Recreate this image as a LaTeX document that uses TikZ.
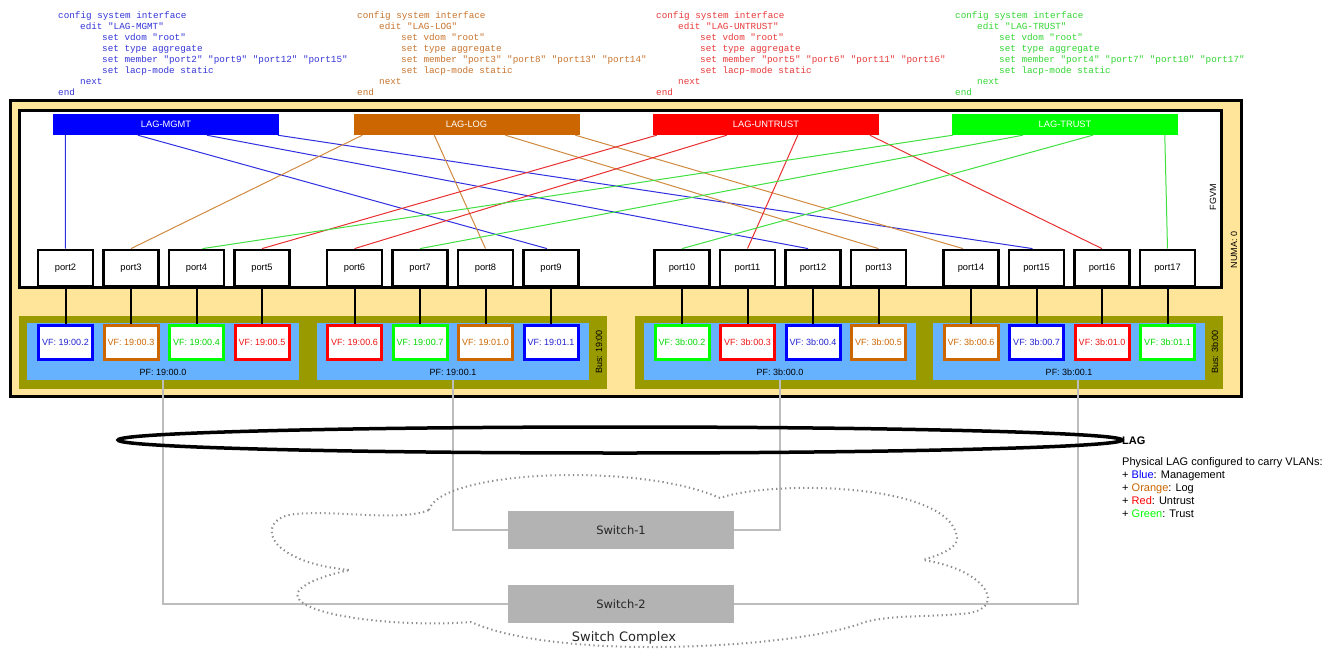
\documentclass[tikz,border=0pt]{standalone}
\usepackage{fontspec}
\setmainfont{Liberation Sans}
\setmonofont{Liberation Mono}
\newfontfamily\swfont{DejaVu Sans}
\usetikzlibrary{calc,shapes.geometric}
\definecolor{numafill}{HTML}{FFE599}
\definecolor{busolive}{HTML}{999900}
\definecolor{pfblue}{HTML}{66B2FF}
\definecolor{swgrey}{HTML}{B3B3B3}
\definecolor{wiregrey}{HTML}{BDBDBD}
\definecolor{cloudgrey}{HTML}{8C8C8C}
\definecolor{fillB}{HTML}{0000FF}
\definecolor{fillO}{HTML}{CC6600}
\definecolor{fillR}{HTML}{FF0000}
\definecolor{fillG}{HTML}{00FF00}
\definecolor{cfgB}{HTML}{3535D8}
\definecolor{cfgO}{HTML}{C8742E}
\definecolor{cfgR}{HTML}{E83A3A}
\definecolor{cfgG}{HTML}{33D633}
\definecolor{lnB}{HTML}{3030E0}
\definecolor{lnO}{HTML}{D08A40}
\definecolor{lnR}{HTML}{E83030}
\definecolor{lnG}{HTML}{40E040}
\definecolor{txB}{HTML}{2020D0}
\definecolor{txO}{HTML}{CC6600}
\definecolor{txR}{HTML}{EE1111}
\definecolor{txG}{HTML}{00D800}
\newcommand{\cfgblock}[5]{%
  \node[cfg,text=#2] (#3a) at (#1,18) {config system interface};
  \node[cfg,text=#2] (#3b) at (#1+22,29) {edit "#4"};
  \node[cfg,text=#2] (#3c) at (#1+44,40) {set vdom "root"};
  \node[cfg,text=#2] (#3d) at (#1+44,51) {set type aggregate};
  \node[cfg,text=#2] (#3e) at (#1+44,62) {set member #5};
  \node[cfg,text=#2] (#3f) at (#1+44,73) {set lacp-mode static};
  \node[cfg,text=#2] (#3g) at (#1+22,84) {next};
  \node[cfg,text=#2] (#3h) at (#1,95) {end};
}
\begin{document}
\begin{tikzpicture}[x=1pt,y=-1pt,
  cfg/.style={anchor=base west,inner sep=0pt,font=\ttfamily\fontsize{9.3}{11}\selectfont},
  lagbox/.style={rectangle,minimum width=226pt,minimum height=21pt,inner sep=0pt,text=white,font=\fontsize{9.3}{11}\selectfont},
  portbox/.style={draw=black,line width=2.8pt,fill=white,minimum width=55pt,minimum height=36pt,inner sep=0pt,font=\fontsize{9.3}{11}\selectfont},
  vfbox/.style={draw=fill#1,text=tx#1,fill=white,line width=3pt,minimum width=54pt,minimum height=34pt,inner sep=0pt,font=\fontsize{9}{11}\selectfont},
  pfbox/.style={fill=pfblue,minimum width=272pt,minimum height=57pt,inner sep=0pt},
  busbox/.style={fill=busolive,minimum width=588pt,minimum height=73pt,inner sep=0pt},
  smalltxt/.style={inner sep=0pt,font=\fontsize{9}{11}\selectfont},
  link/.style={line width=1pt},
  vflink/.style={line width=2pt,black},
  greywire/.style={line width=1.3pt,wiregrey},
  swbox/.style={fill=swgrey,minimum width=226pt,minimum height=38pt,inner sep=0pt,font=\swfont\fontsize{11.5}{13}\selectfont,text=black!85},
  cloudline/.style={cloudgrey,line width=2pt,dash pattern=on 1.3pt off 3.2pt},
  leg/.style={anchor=base west,inner sep=0pt,font=\fontsize{11}{13}\selectfont}
]
\useasboundingbox (0,0) rectangle (1328,651);
\fill[white] (0,0) rectangle (1328,651);

% config texts
\cfgblock{58}{cfgB}{cm}{LAG-MGMT}{"port2" "port9" "port12" "port15"}
\cfgblock{357}{cfgO}{cl}{LAG-LOG}{"port3" "port8" "port13" "port14"}
\cfgblock{656}{cfgR}{cu}{LAG-UNTRUST}{"port5" "port6" "port11" "port16"}
\cfgblock{955}{cfgG}{ct}{LAG-TRUST}{"port4" "port7" "port10" "port17"}

% NUMA and FGVM containers
\node[draw=black,line width=3pt,fill=numafill,minimum width=1231pt,minimum height=296pt,inner sep=0pt] (numa) at (626,248.5) {};
\node[draw=black,line width=3pt,fill=white,minimum width=1202pt,minimum height=176.5pt,inner sep=0pt] (fgvm) at (620.5,198.75) {};
\node[smalltxt,rotate=90] (fgvmlbl) at (1213,197) {FGVM};
\node[smalltxt,rotate=90] (numalbl) at (1234,250) {NUMA: 0};

% buses and PFs
\node[busbox] (bus19) at (313,352.5) {};
\node[busbox] (bus3b) at (929,352.5) {};
\node[smalltxt,rotate=90] (bus19lbl) at (599,352) {Bus: 19:00};
\node[smalltxt,rotate=90] (bus3blbl) at (1215,352) {Bus: 3b:00};
\node[pfbox] (pf0) at (163,351.5) {};
\node[pfbox] (pf1) at (453,351.5) {};
\node[pfbox] (pf2) at (780,351.5) {};
\node[pfbox] (pf3) at (1069,351.5) {};
\node[smalltxt] (pf0lbl) at (163,372) {PF: 19:00.0};
\node[smalltxt] (pf1lbl) at (453,372) {PF: 19:00.1};
\node[smalltxt] (pf2lbl) at (780,372) {PF: 3b:00.0};
\node[smalltxt] (pf3lbl) at (1069,372) {PF: 3b:00.1};

% VFs
\foreach \n/\x/\c/\t in {2/65.5/B/19:00.2,3/131/O/19:00.3,4/196.5/G/19:00.4,5/262/R/19:00.5,
  6/354.5/R/19:00.6,7/420/G/19:00.7,8/485.5/O/19:01.0,9/551/B/19:01.1,
  10/682/G/3b:00.2,11/747.5/R/3b:00.3,12/813/B/3b:00.4,13/878.5/O/3b:00.5,
  14/971/O/3b:00.6,15/1036.5/B/3b:00.7,16/1102/R/3b:01.0,17/1167.5/G/3b:01.1}
  \node[vfbox=\c] (v\n) at (\x,342.5) {VF: \t};

% ports
\foreach \n/\x in {2/65.5,3/131,4/196.5,5/262,6/354.5,7/420,8/485.5,9/551,
  10/682,11/747.5,12/813,13/878.5,14/971,15/1036.5,16/1102,17/1167.5}
  \node[portbox] (p\n) at (\x,268) {port\n};

\foreach \n in {2,...,17}
  \draw[vflink] (p\n.south) -- (v\n.north);

% LAG interfaces
\node[lagbox,fill=fillB] (lagM) at (166,124.5) {LAG-MGMT};
\node[lagbox,fill=fillO] (lagL) at (466.5,124.5) {LAG-LOG};
\node[lagbox,fill=fillR] (lagU) at (766,124.5) {LAG-UNTRUST};
\node[lagbox,fill=fillG] (lagT) at (1065,124.5) {LAG-TRUST};

\draw[link,lnB] ($(lagM.south west)+(12.5,0)$) -- (p2.north);
\draw[link,lnB] ($(lagM.south west)+(85,0)$) -- ($(p9.north)+(-4,0)$);
\draw[link,lnB] ($(lagM.south west)+(154,0)$) -- ($(p12.north)+(-5,0)$);
\draw[link,lnB] ($(lagM.south west)+(225,0)$) -- ($(p15.north)+(-4,0)$);

\draw[link,lnO] ($(lagL.south west)+(9,0)$) -- (p3.north);
\draw[link,lnO] ($(lagL.south west)+(81,0)$) -- (p8.north);
\draw[link,lnO] ($(lagL.south west)+(152,0)$) -- (p13.north);
\draw[link,lnO] ($(lagL.south west)+(222,0)$) -- ($(p14.north)+(-8,0)$);

\draw[link,lnR] ($(lagU.south west)+(4,0)$) -- (p5.north);
\draw[link,lnR] ($(lagU.south west)+(74,0)$) -- (p6.north);
\draw[link,lnR] ($(lagU.south west)+(145,0)$) -- (p11.north);
\draw[link,lnR] ($(lagU.south west)+(217,0)$) -- (p16.north);

\draw[link,lnG] ($(lagT.south west)+(1,0)$) -- ($(p4.north)+(6,0)$);
\draw[link,lnG] ($(lagT.south west)+(71,0)$) -- (p7.north);
\draw[link,lnG] ($(lagT.south west)+(141,0)$) -- (p10.north);
\draw[link,lnG] ($(lagT.south west)+(213,0)$) -- (p17.north);

% switches
\node[swbox] (sw1) at (621,530) {Switch-1};
\node[swbox] (sw2) at (621,604) {Switch-2};

\draw[greywire] (pf0.south) |- (sw2.west);
\draw[greywire] (pf1.south) |- (sw1.west);
\draw[greywire] (pf2.south) |- (sw1.east);
\draw[greywire] ($(pf3.south)+(9,0)$) |- (sw2.east);

% LAG ring
\node[draw=black,line width=3.5pt,ellipse,minimum width=1004pt,minimum height=26pt,inner sep=0pt] (ring) at (620,440) {};
\node[anchor=base west,inner sep=0pt,font=\bfseries\fontsize{11}{13}\selectfont] (lagtitle) at (1122,444) {LAG};
\node[leg] (leg1) at (1122,465) {Physical LAG configured to carry VLANs:};
\node[leg] (leg2) at (1122,478) {+ \textcolor{fillB}{Blue}: Management};
\node[leg] (leg3) at (1122,491) {+ \textcolor{fillO}{Orange}: Log};
\node[leg] (leg4) at (1122,504) {+ \textcolor{fillR}{Red}: Untrust};
\node[leg] (leg5) at (1122,517) {+ \textcolor{fillG}{Green}: Trust};

% switch complex cloud
\draw[cloudline] (429,510)
  .. controls (440,470) and (640,462) .. (720,498)
  .. controls (770,480) and (952,482) .. (957,538)
  .. controls (957,550) and (935,556) .. (923,560)
  .. controls (990,570) and (1010,612) .. (960,614)
  .. controls (930,617) and (890,615) .. (865,622)
  .. controls (800,648) and (560,662) .. (471,622)
  .. controls (400,628) and (288,615) .. (298,592)
  .. controls (304,582) and (330,574) .. (350,570)
  .. controls (262,562) and (255,518) .. (295,514)
  .. controls (340,510) and (400,522) .. (429,510);
\node[inner sep=0pt,font=\swfont\fontsize{13}{15}\selectfont,text=black!85] (cplx) at (624,638) {Switch Complex};
\end{tikzpicture}
\end{document}
